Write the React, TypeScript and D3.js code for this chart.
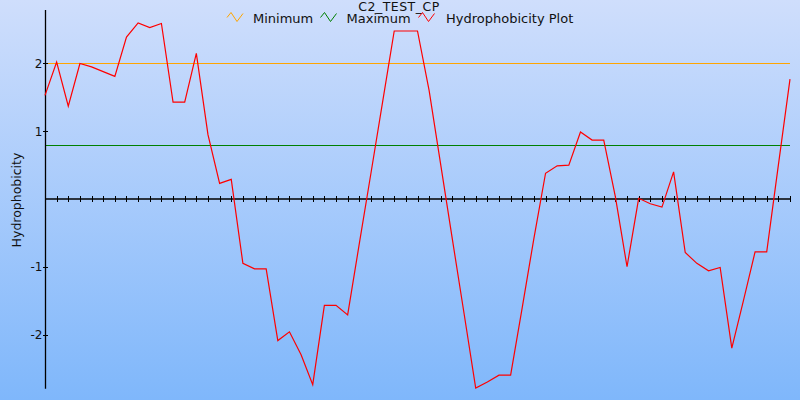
import React, { useEffect } from "react";
import * as d3 from "d3";

const TITLE = "C2_TEST_CP";
const Y_LABEL = "Hydrophobicity";
const SERIES_NAMES = ["Minimum", "Maximum", "Hydrophobicity Plot"];
const SERIES_COLORS = ["#ffa500", "#008000", "#ff0000"];
const MIN_LEVEL = 2.0;
const MAX_LEVEL = 0.8;
const Y_TICKS = [-2, -1, 1, 2];
const HYDRO = [
  1.53, 2.02, 1.37, 2.0, 1.95, 1.88, 1.81, 2.39, 2.6, 2.53, 2.59, 1.43, 1.43, 2.15, 0.95, 0.23, 0.29,
  -0.95, -1.03, -1.03, -2.09, -1.96, -2.3, -2.74, -1.57, -1.57, -1.71, -0.66, 0.38, 1.43, 2.48, 2.48,
  2.48, 1.6, 0.5, -0.6, -1.69, -2.79, -2.7, -2.6, -2.6, -1.6, -0.58, 0.38, 0.49, 0.5, 0.99, 0.87, 0.87,
  0.03, -1.0, 0.01, -0.07, -0.12, 0.4, -0.79, -0.95, -1.06, -1.01, -2.2, -1.5, -0.78, -0.78, 0.5, 1.77,
];

const W = 800;
const H = 400;
const FONT = "'DejaVu Sans', Verdana, sans-serif";

export default function App() {
  useEffect(() => {
    document.body.style.margin = "0";
  }, []);

  const x = d3.scaleLinear().domain([0, HYDRO.length - 1]).range([45, 790]);
  const y = d3.scaleLinear().domain([-2.8, 2.8]).range([388.7, 9.3]);
  const line = d3
    .line<number>()
    .x((_, i) => x(i))
    .y((d) => y(d));
  const xTicks = d3.range(1, HYDRO.length);

  const legendX = [227, 320.5, 418.5];
  const textX = [253, 346.5, 446];
  const icon = (x0: number) =>
    d3.line<[number, number]>()([
      [x0, 17.5],
      [x0 + 4, 12.5],
      [x0 + 10, 21.5],
      [x0 + 16, 13.5],
    ]) as string;

  return (
    <svg width={W} height={H} style={{ display: "block", position: "fixed", left: 0, top: 0 }}>
      <defs>
        <linearGradient id="bg" x1="0" y1="0" x2="0" y2="1">
          <stop offset="0%" stopColor="#cfdefc" />
          <stop offset="100%" stopColor="#7fb7fb" />
        </linearGradient>
      </defs>
      <rect x={0} y={0} width={W} height={H} fill="url(#bg)" />

      {/* reference lines */}
      <line x1={x(0)} x2={x(HYDRO.length - 1)} y1={Math.round(y(MIN_LEVEL)) + 0.5} y2={Math.round(y(MIN_LEVEL)) + 0.5} stroke={SERIES_COLORS[0]} strokeWidth={1.2} />
      <line x1={x(0)} x2={x(HYDRO.length - 1)} y1={Math.round(y(MAX_LEVEL)) + 0.5} y2={Math.round(y(MAX_LEVEL)) + 0.5} stroke={SERIES_COLORS[1]} strokeWidth={1.2} />

      {/* x axis at zero */}
      <line x1={x(0)} x2={x(HYDRO.length - 1)} y1={y(0)} y2={y(0)} stroke="#000" strokeWidth={1.3} />
      {xTicks.map((i) => (
        <line key={i} x1={Math.round(x(i)) + 0.5} x2={Math.round(x(i)) + 0.5} y1={y(0) - 3} y2={y(0) + 3} stroke="#000" strokeWidth={1} />
      ))}

      {/* y axis */}
      <line x1={45.5} x2={45.5} y1={y(2.8) + 0.7} y2={y(-2.8)} stroke="#000" strokeWidth={1.3} />
      {Y_TICKS.map((t) => (
        <g key={t}>
          <line x1={43} x2={48} y1={Math.round(y(t)) + 0.5} y2={Math.round(y(t)) + 0.5} stroke="#000" strokeWidth={1} />
          <text x={42.5} y={y(t)} dy="0.36em" textAnchor="end" fontFamily={FONT} fontSize={12} fill="#111">
            {String(t)}
          </text>
        </g>
      ))}
      <text
        transform={`translate(21,${y(0) + 1}) rotate(-90)`}
        textAnchor="middle"
        fontFamily={FONT}
        fontSize={12.5}
        fill="#111"
      >
        {Y_LABEL}
      </text>

      {/* data line */}
      <path d={line(HYDRO) as string} fill="none" stroke={SERIES_COLORS[2]} strokeWidth={1.2} strokeLinejoin="miter" />

      {/* title */}
      <text x={399} y={10.5} textAnchor="middle" fontFamily={FONT} fontSize={12.5} letterSpacing={0.5} fill="#111">
        {TITLE}
      </text>

      {/* legend */}
      {SERIES_NAMES.map((n, k) => (
        <g key={n}>
          <path d={icon(legendX[k])} fill="none" stroke={SERIES_COLORS[k]} strokeWidth={1} />
          <text x={textX[k]} y={23} fontFamily={FONT} fontSize={13} fill="#111">
            {n}
          </text>
        </g>
      ))}
    </svg>
  );
}
